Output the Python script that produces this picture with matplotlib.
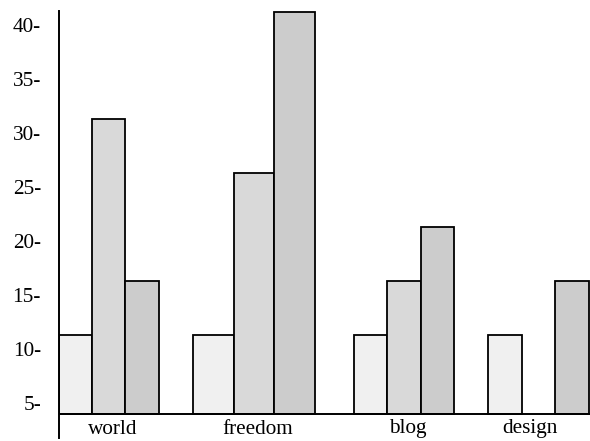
import matplotlib
matplotlib.use("Agg")
import matplotlib.pyplot as plt
import matplotlib.transforms as mtransforms

plt.rcParams['font.family'] = ['Liberation Serif', 'DejaVu Serif']

# data
categories = ["world", "freedom", "blog", "design"]
series_a = [11.3, 11.3, 11.3, 11.3]
series_b = [31.3, 26.3, 16.3, 0]
series_c = [16.3, 41.2, 21.3, 16.3]
ytick_values = [5, 10, 15, 20, 25, 30, 35, 40]
baseline = 4.0

# layout (pixel-like x units)
group_left = [59, 193, 354, 488]
bar_width = [33.2, 40.7, 33.3, 33.7]
label_x = [113, 258, 408, 530]
colors = ["#f0f0f0", "#d9d9d9", "#cccccc"]

fig = plt.figure(figsize=(5.9, 4.41), dpi=100)
ax = fig.add_axes([59 / 590, 3 / 441, 531 / 590, 427 / 441])
ax.set_xlim(59, 590)
ax.set_ylim(1.76, 41.3)

for s, series in enumerate([series_a, series_b, series_c]):
    for g, v in enumerate(series):
        if v <= baseline:
            continue
        x0 = group_left[g] + s * bar_width[g]
        ax.bar(x0, v - baseline, width=bar_width[g], bottom=baseline,
               align='edge', color=colors[s], edgecolor='black',
               linewidth=1.3, zorder=2)

ax.axhline(baseline, color='black', linewidth=1.4, zorder=3)

for spine in ['top', 'right', 'bottom']:
    ax.spines[spine].set_visible(False)
ax.spines['left'].set_linewidth(1.4)

ax.set_yticks(ytick_values)
ax.set_yticklabels([f"{v}-" for v in ytick_values], fontsize=15.3)
ax.tick_params(axis='y', length=0, pad=13)
ax.set_xticks([])

trans = mtransforms.blended_transform_factory(ax.transData, ax.transAxes)
for x, name in zip(label_x, categories):
    ax.text(x, 9 / 427, name, transform=trans, ha='center', va='center',
            fontsize=15.3)

fig.savefig("out.png", dpi=100)
